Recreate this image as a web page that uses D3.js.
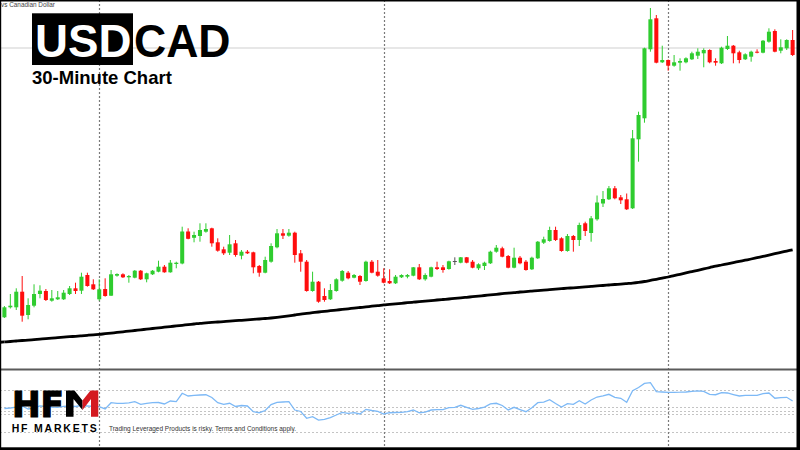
<!DOCTYPE html>
<html>
<head>
<meta charset="utf-8">
<script src="https://d3js.org/d3.v7.min.js"></script>
<style>
  body { margin: 0; background: #fff; }
  svg { display: block; font-family: "Liberation Sans", Arial, sans-serif; }
</style>
</head>
<body>
<svg id="chart" width="800" height="450"></svg>
<script>
// USDCAD 30-minute candles (134 bars)
const opens = [
  1.35827, 1.35927, 1.35927, 1.36083, 1.35850, 1.35943, 1.36060, 1.36090, 1.35993, 1.36007,
  1.36007, 1.36060, 1.36117, 1.36093, 1.36250, 1.36157, 1.36007, 1.36110, 1.36043, 1.36243,
  1.36257, 1.36227, 1.36223, 1.36293, 1.36207, 1.36257, 1.36283, 1.36333, 1.36277, 1.36360,
  1.36365, 1.36685, 1.36622, 1.36640, 1.36683, 1.36717, 1.36577, 1.36507, 1.36473, 1.36567,
  1.36443, 1.36483, 1.36477, 1.36340, 1.36273, 1.36383, 1.36527, 1.36667, 1.36643, 1.36673,
  1.36467, 1.36383, 1.36090, 1.36183, 1.36040, 1.36007, 1.36090, 1.36193, 1.36273, 1.36223,
  1.36240, 1.36190, 1.36383, 1.36283, 1.36217, 1.36190, 1.36167, 1.36227, 1.36233, 1.36243,
  1.36327, 1.36207, 1.36233, 1.36327, 1.36327, 1.36310, 1.36390, 1.36373, 1.36427, 1.36383,
  1.36317, 1.36340, 1.36367, 1.36483, 1.36517, 1.36440, 1.36323, 1.36423, 1.36383, 1.36307,
  1.36417, 1.36573, 1.36590, 1.36700, 1.36617, 1.36490, 1.36640, 1.36600, 1.36767, 1.36670,
  1.36807, 1.36965, 1.37007, 1.37117, 1.37027, 1.37007, 1.36917, 1.37607, 1.37817, 1.38507,
  1.38817, 1.38377, 1.38400, 1.38343, 1.38373, 1.38377, 1.38407, 1.38443, 1.38467, 1.38500,
  1.38390, 1.38367, 1.38510, 1.38543, 1.38477, 1.38407, 1.38433, 1.38483, 1.38473, 1.38583,
  1.38690, 1.38493, 1.38517, 1.38600
];
const highs = [
  1.35940, 1.36060, 1.36117, 1.36240, 1.36017, 1.36157, 1.36147, 1.36110, 1.36100, 1.36090,
  1.36100, 1.36140, 1.36173, 1.36273, 1.36273, 1.36207, 1.36207, 1.36217, 1.36300, 1.36267,
  1.36267, 1.36250, 1.36300, 1.36300, 1.36273, 1.36300, 1.36393, 1.36350, 1.36400, 1.36383,
  1.36733, 1.36717, 1.36683, 1.36767, 1.36767, 1.36723, 1.36617, 1.36533, 1.36650, 1.36600,
  1.36500, 1.36500, 1.36483, 1.36350, 1.36433, 1.36567, 1.36710, 1.36710, 1.36710, 1.36683,
  1.36500, 1.36400, 1.36283, 1.36190, 1.36117, 1.36160, 1.36217, 1.36300, 1.36290, 1.36260,
  1.36250, 1.36393, 1.36400, 1.36400, 1.36317, 1.36307, 1.36250, 1.36257, 1.36260, 1.36330,
  1.36360, 1.36267, 1.36333, 1.36383, 1.36350, 1.36393, 1.36427, 1.36430, 1.36430, 1.36400,
  1.36367, 1.36383, 1.36493, 1.36550, 1.36533, 1.36450, 1.36523, 1.36440, 1.36400, 1.36433,
  1.36590, 1.36633, 1.36733, 1.36733, 1.36627, 1.36660, 1.36650, 1.36773, 1.36783, 1.36840,
  1.37045, 1.37090, 1.37140, 1.37140, 1.37050, 1.37065, 1.37700, 1.37883, 1.38523, 1.38920,
  1.38850, 1.38543, 1.38405, 1.38450, 1.38417, 1.38427, 1.38483, 1.38517, 1.38517, 1.38507,
  1.38417, 1.38533, 1.38640, 1.38550, 1.38493, 1.38467, 1.38493, 1.38507, 1.38600, 1.38717,
  1.38707, 1.38607, 1.38607, 1.38700
];
const lows = [
  1.35820, 1.35915, 1.35900, 1.35783, 1.35807, 1.35927, 1.36017, 1.35990, 1.35983, 1.36000,
  1.36000, 1.36050, 1.36060, 1.36060, 1.36133, 1.36100, 1.35993, 1.36033, 1.36040, 1.36233,
  1.36220, 1.36173, 1.36217, 1.36200, 1.36177, 1.36250, 1.36277, 1.36273, 1.36273, 1.36317,
  1.36357, 1.36607, 1.36577, 1.36583, 1.36673, 1.36533, 1.36483, 1.36450, 1.36450, 1.36433,
  1.36407, 1.36460, 1.36267, 1.36233, 1.36267, 1.36373, 1.36517, 1.36610, 1.36633, 1.36373,
  1.36283, 1.36083, 1.36083, 1.35973, 1.35983, 1.36000, 1.36083, 1.36183, 1.36207, 1.36217,
  1.36150, 1.36183, 1.36267, 1.36233, 1.36167, 1.36160, 1.36160, 1.36220, 1.36217, 1.36237,
  1.36200, 1.36193, 1.36227, 1.36300, 1.36273, 1.36303, 1.36350, 1.36367, 1.36367, 1.36317,
  1.36300, 1.36300, 1.36360, 1.36473, 1.36427, 1.36317, 1.36317, 1.36357, 1.36293, 1.36300,
  1.36410, 1.36560, 1.36583, 1.36590, 1.36483, 1.36483, 1.36483, 1.36540, 1.36640, 1.36583,
  1.36793, 1.36930, 1.37000, 1.37007, 1.36960, 1.36900, 1.36910, 1.37383, 1.37773, 1.38483,
  1.38367, 1.38370, 1.38293, 1.38333, 1.38293, 1.38367, 1.38400, 1.38410, 1.38327, 1.38367,
  1.38343, 1.38360, 1.38500, 1.38367, 1.38367, 1.38400, 1.38383, 1.38467, 1.38467, 1.38573,
  1.38477, 1.38467, 1.38500, 1.38440
];
const closes = [
  1.35927, 1.35943, 1.36083, 1.35843, 1.35950, 1.36060, 1.36093, 1.36000, 1.36017, 1.36027,
  1.36073, 1.36117, 1.36090, 1.36233, 1.36140, 1.36107, 1.36107, 1.36040, 1.36257, 1.36260,
  1.36227, 1.36240, 1.36293, 1.36207, 1.36267, 1.36293, 1.36333, 1.36277, 1.36373, 1.36373,
  1.36685, 1.36612, 1.36650, 1.36700, 1.36710, 1.36567, 1.36493, 1.36467, 1.36557, 1.36450,
  1.36483, 1.36467, 1.36327, 1.36273, 1.36400, 1.36540, 1.36667, 1.36643, 1.36673, 1.36450,
  1.36383, 1.36090, 1.36183, 1.35983, 1.36000, 1.36100, 1.36207, 1.36290, 1.36217, 1.36250,
  1.36183, 1.36383, 1.36273, 1.36243, 1.36173, 1.36167, 1.36233, 1.36250, 1.36250, 1.36327,
  1.36207, 1.36250, 1.36327, 1.36310, 1.36300, 1.36387, 1.36390, 1.36427, 1.36373, 1.36323,
  1.36357, 1.36373, 1.36483, 1.36523, 1.36433, 1.36323, 1.36423, 1.36367, 1.36300, 1.36423,
  1.36583, 1.36607, 1.36700, 1.36600, 1.36490, 1.36640, 1.36600, 1.36750, 1.36690, 1.36817,
  1.36975, 1.37010, 1.37117, 1.37017, 1.36997, 1.36907, 1.37617, 1.37850, 1.38517, 1.38807,
  1.38373, 1.38400, 1.38343, 1.38377, 1.38390, 1.38417, 1.38467, 1.38483, 1.38500, 1.38377,
  1.38373, 1.38523, 1.38543, 1.38467, 1.38400, 1.38457, 1.38483, 1.38473, 1.38593, 1.38683,
  1.38483, 1.38527, 1.38600, 1.38450
];

// moving average (thick black line)
const movingAvg = [
  1.35581, 1.35585, 1.35590, 1.35595, 1.35599, 1.35604, 1.35609, 1.35614, 1.35618, 1.35623,
  1.35628, 1.35633, 1.35637, 1.35642, 1.35647, 1.35652, 1.35656, 1.35663, 1.35669, 1.35676,
  1.35682, 1.35689, 1.35695, 1.35702, 1.35708, 1.35715, 1.35721, 1.35728, 1.35734, 1.35741,
  1.35747, 1.35754, 1.35760, 1.35767, 1.35771, 1.35776, 1.35780, 1.35784, 1.35788, 1.35793,
  1.35797, 1.35801, 1.35806, 1.35810, 1.35815, 1.35820, 1.35826, 1.35833, 1.35841, 1.35850,
  1.35859, 1.35866, 1.35873, 1.35880, 1.35886, 1.35893, 1.35899, 1.35906, 1.35912, 1.35919,
  1.35925, 1.35931, 1.35938, 1.35944, 1.35951, 1.35956, 1.35962, 1.35967, 1.35973, 1.35978,
  1.35983, 1.35989, 1.35994, 1.36000, 1.36005, 1.36010, 1.36016, 1.36021, 1.36027, 1.36033,
  1.36039, 1.36045, 1.36051, 1.36057, 1.36063, 1.36069, 1.36074, 1.36080, 1.36084, 1.36089,
  1.36094, 1.36098, 1.36103, 1.36108, 1.36113, 1.36118, 1.36122, 1.36127, 1.36131, 1.36136,
  1.36141, 1.36145, 1.36150, 1.36155, 1.36159, 1.36164, 1.36169, 1.36176, 1.36185, 1.36196,
  1.36207, 1.36219, 1.36230, 1.36244, 1.36257, 1.36271, 1.36284, 1.36297, 1.36311, 1.36324,
  1.36338, 1.36350, 1.36362, 1.36374, 1.36386, 1.36398, 1.36410, 1.36423, 1.36436, 1.36449,
  1.36463, 1.36476, 1.36489, 1.36502
];

// oscillator in the lower window
const oscillator = [
  53.4, 54.1, 55.5, 57.0, 52.7, 54.1, 57.0, 56.3, 55.5, 55.1,
  56.3, 57.0, 56.3, 57.7, 57.0, 56.3, 56.0, 52.7, 61.7, 60.9,
  60.9, 61.6, 63.2, 59.4, 60.9, 61.7, 62.0, 59.9, 64.2, 63.2,
  75.3, 71.4, 72.4, 72.8, 73.2, 69.2, 61.7, 59.4, 60.9, 56.3,
  57.7, 57.0, 48.8, 47.3, 50.5, 59.1, 62.3, 62.7, 63.2, 51.2,
  49.1, 39.3, 41.6, 36.8, 37.6, 40.4, 44.0, 47.9, 46.5, 47.3,
  45.5, 52.2, 50.5, 49.1, 45.5, 47.3, 47.6, 47.9, 48.8, 51.2,
  47.3, 48.3, 51.2, 51.9, 51.9, 54.5, 55.1, 58.0, 55.1, 52.2,
  53.4, 55.5, 59.9, 60.9, 57.7, 51.2, 55.1, 51.9, 48.8, 54.5,
  61.7, 62.7, 66.0, 60.6, 55.5, 60.3, 59.4, 64.6, 59.9, 65.6,
  69.9, 71.4, 73.8, 69.5, 68.1, 62.3, 79.0, 83.6, 89.4, 90.5,
  77.6, 77.1, 76.7, 76.7, 76.8, 77.1, 78.1, 78.6, 78.1, 73.8,
  73.2, 76.1, 75.7, 73.5, 71.4, 72.4, 72.4, 72.4, 74.7, 75.7,
  68.1, 68.9, 69.5, 64.2
];
const oscLevels = [80, 55, 50, 45, 20];

const dayStarts = [16, 64, 112];   // period separators
const bidPrice = 1.38520;

const W = 800, H = 450;
const mainBottom = 369;

const svg = d3.select("#chart");
svg.append("rect").attr("width", W).attr("height", H).attr("fill", "#fff");

const n = opens.length;
const x = d3.scaleBand()
    .domain(d3.range(n))
    .range([1.44, 795.6])
    .paddingInner(0.32)
    .paddingOuter(0.16);
const cx = i => x(i) + x.bandwidth() / 2;

const y = d3.scaleLinear().domain([1.3532, 1.39]).range([368, 0]);
const yOsc = d3.scaleLinear().domain([0, 100]).range([445.6, 376.1]);

// bid line
svg.append("line")
    .attr("x1", 0).attr("x2", 797)
    .attr("y1", y(bidPrice)).attr("y2", y(bidPrice))
    .attr("stroke", "#cfcfcf").attr("stroke-width", 1);

// oscillator levels
svg.append("g").selectAll("line")
    .data(oscLevels)
    .enter().append("line")
    .attr("x1", 0).attr("x2", 796)
    .attr("y1", d => Math.round(yOsc(d)) + 0.5)
    .attr("y2", d => Math.round(yOsc(d)) + 0.5)
    .attr("stroke", "#c4c4c4")
    .attr("stroke-dasharray", "2,2");

// day separators over both windows
svg.append("g").selectAll("line")
    .data(dayStarts)
    .enter().append("line")
    .attr("x1", d => Math.round(cx(d)) + 0.5)
    .attr("x2", d => Math.round(cx(d)) + 0.5)
    .attr("y1", 0).attr("y2", H)
    .attr("stroke", "#7a7a7a")
    .attr("stroke-width", 1.2)
    .attr("stroke-dasharray", "2,2");

// moving average
const maLine = d3.line()
    .x((d, i) => cx(i))
    .y(d => y(d))
    .curve(d3.curveMonotoneX);
svg.append("path")
    .attr("d", maLine(movingAvg))
    .attr("fill", "none")
    .attr("stroke", "#000")
    .attr("stroke-width", 2.8);
// line starts at the left edge
svg.append("line")
    .attr("x1", 0).attr("x2", cx(0))
    .attr("y1", y(movingAvg[0]) + 0.35).attr("y2", y(movingAvg[0]))
    .attr("stroke", "#000").attr("stroke-width", 2.8);

// candles
const green = "#2fcc2f", red = "#ff0d0d", flat = "#555";
const colour = i => closes[i] > opens[i] ? green : (closes[i] < opens[i] ? red : flat);

const candles = svg.append("g").selectAll("g")
    .data(d3.range(n))
    .enter().append("g");

candles.append("line")
    .attr("x1", i => cx(i)).attr("x2", i => cx(i))
    .attr("y1", i => y(highs[i])).attr("y2", i => y(lows[i]))
    .attr("stroke", colour)
    .attr("stroke-width", 1);

candles.append("rect")
    .attr("x", i => x(i))
    .attr("width", x.bandwidth())
    .attr("y", i => y(Math.max(opens[i], closes[i])))
    .attr("height", i => Math.max(1, Math.abs(y(opens[i]) - y(closes[i]))))
    .attr("fill", colour);

// oscillator line
const oscLine = d3.line()
    .x((d, i) => cx(i))
    .y(d => yOsc(d));
svg.append("path")
    .attr("d", oscLine(oscillator))
    .attr("fill", "none")
    .attr("stroke", "#7db9f6")
    .attr("stroke-width", 1.3);

// window separator
svg.append("line")
    .attr("x1", 0).attr("x2", W)
    .attr("y1", mainBottom + 0.5).attr("y2", mainBottom + 0.5)
    .attr("stroke", "#5a5a5a").attr("stroke-width", 2);

// frame
svg.append("rect").attr("x", 0).attr("y", 0).attr("width", W).attr("height", 1.5).attr("fill", "#000");
svg.append("rect").attr("x", 0).attr("y", 0).attr("width", 1.2).attr("height", H).attr("fill", "#000");
svg.append("rect").attr("x", 796.5).attr("y", 0).attr("width", 3.5).attr("height", H).attr("fill", "#000");
svg.append("rect").attr("x", 0).attr("y", 447.3).attr("width", W).attr("height", 2.7).attr("fill", "#000");

// symbol description (only its tail shows at the left edge)
svg.append("text")
    .attr("x", 1).attr("y", 7)
    .attr("font-size", 6.6)
    .attr("fill", "#444")
    .attr("textLength", 54).attr("lengthAdjust", "spacingAndGlyphs")
    .text("vs Canadian Dollar");

// title
svg.append("rect")
    .attr("x", 32).attr("y", 13.3)
    .attr("width", 101).attr("height", 51.7)
    .attr("fill", "#000");
svg.append("text")
    .attr("x", 35).attr("y", 56.7)
    .attr("font-size", 46.5).attr("font-weight", "bold")
    .attr("fill", "#fff")
    .attr("textLength", 96.5).attr("lengthAdjust", "spacingAndGlyphs")
    .text("USD");
svg.append("text")
    .attr("x", 134).attr("y", 56.7)
    .attr("font-size", 46.5).attr("font-weight", "bold")
    .attr("fill", "#000")
    .attr("textLength", 96.5).attr("lengthAdjust", "spacingAndGlyphs")
    .text("CAD");
svg.append("text")
    .attr("x", 32).attr("y", 84.3)
    .attr("font-size", 18.5).attr("font-weight", "bold")
    .attr("fill", "#000")
    .text("30-Minute Chart");

// HFM logo
const logo = svg.append("g");
logo.append("text")
    .attr("x", 12).attr("y", 416.7)
    .attr("font-family", "DejaVu Sans")
    .attr("font-size", 36).attr("font-weight", "bold")
    .attr("fill", "#000")
    .attr("stroke", "#000").attr("stroke-width", 1.2)
    .attr("textLength", 52).attr("lengthAdjust", "spacingAndGlyphs")
    .text("HF");
logo.append("path")
    .attr("d", "M66,390.5 L74.5,390.5 L82.5,400.5 L82.5,410 L73.5,399 L73.5,416.7 L66,416.7 Z")
    .attr("fill", "#000");
logo.append("path")
    .attr("d", "M82.5,400.5 L90.5,390.5 L98.3,390.5 L98.3,416.7 L91,416.7 L91,399 L82.5,410 Z")
    .attr("fill", "#d41920");
logo.append("text")
    .attr("x", 11.7).attr("y", 431.7)
    .attr("font-size", 10.5).attr("font-weight", "bold")
    .attr("fill", "#000")
    .attr("textLength", 85).attr("lengthAdjust", "spacing")
    .text("HF MARKETS");

svg.append("text")
    .attr("x", 109).attr("y", 431)
    .attr("font-size", 6.8)
    .attr("fill", "#333")
    .attr("textLength", 187).attr("lengthAdjust", "spacingAndGlyphs")
    .text("Trading Leveraged Products is risky. Terms and Conditions apply.");
</script>
</body>
</html>
